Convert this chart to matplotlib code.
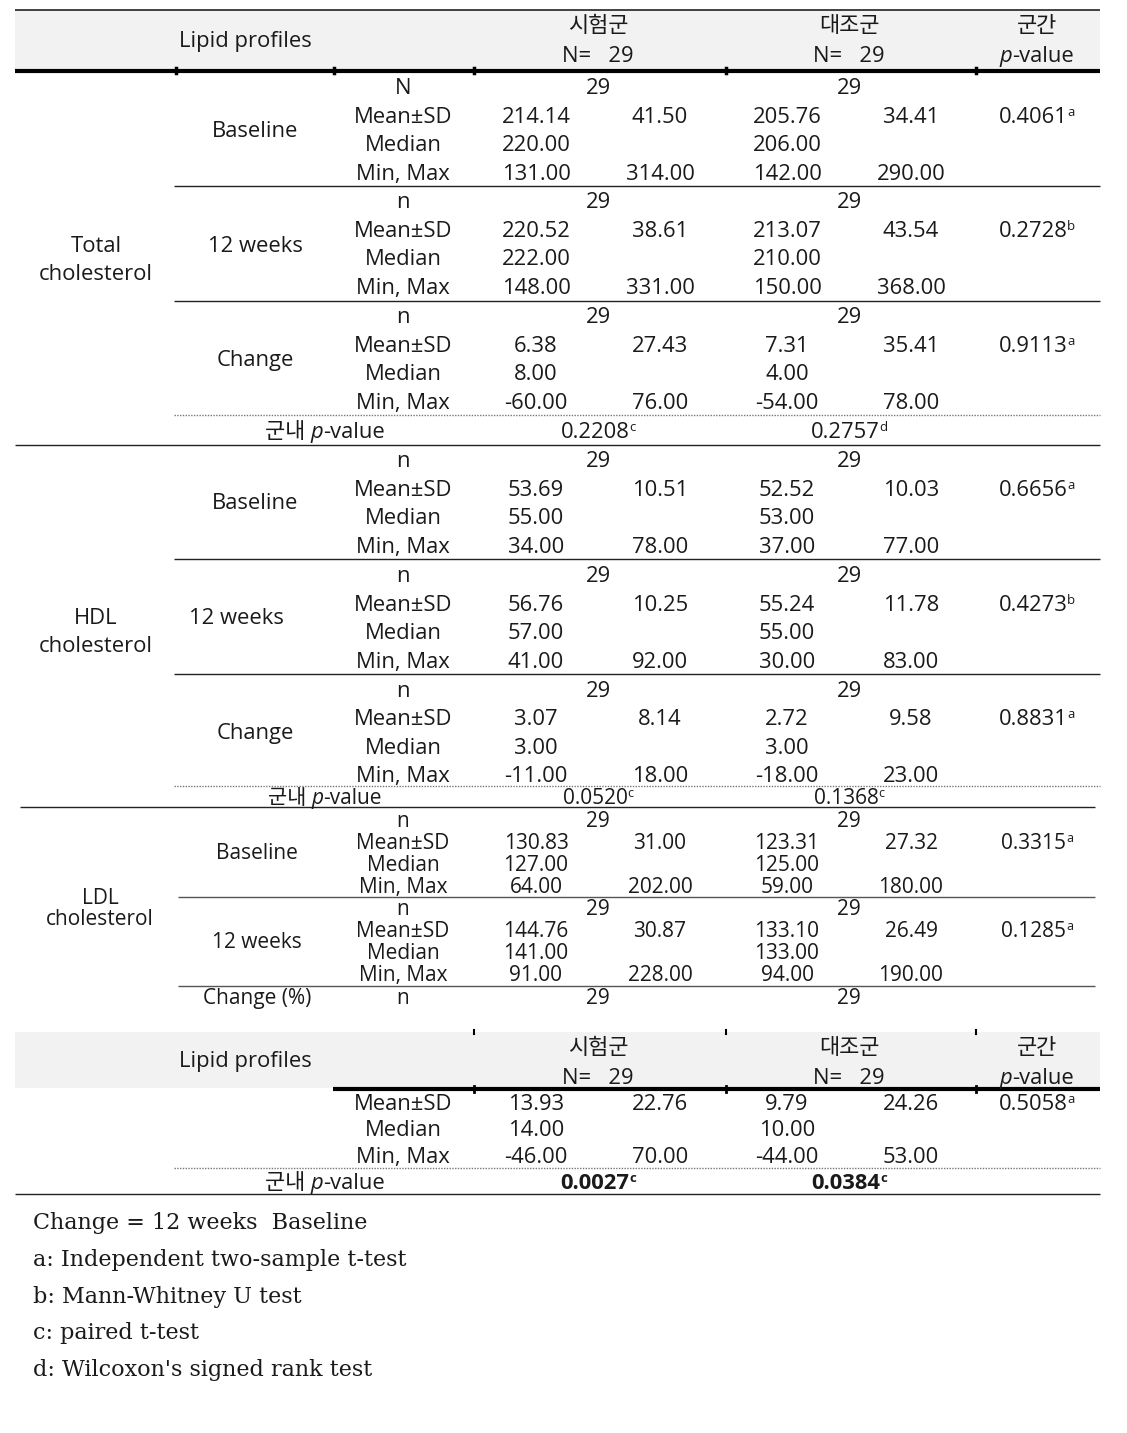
import matplotlib
matplotlib.use('Agg')
import matplotlib.pyplot as plt

plt.rcParams['font.family'] = ['Open Sans', 'Noto Sans CJK KR', 'DejaVu Sans']

W, H = 1127, 1433
FS = 15.8
INK = '#1a1a1a'
DY = 1.5  # small baseline nudge

# ---- data ----
groups = ['시험군', '대조군']
n_each = [29, 29]
stat_labels = ['Mean±SD', 'Median', 'Min, Max']

total_base = [['214.14', '41.50', '205.76', '34.41'], ['220.00', '', '206.00', ''], ['131.00', '314.00', '142.00', '290.00']]
total_12w = [['220.52', '38.61', '213.07', '43.54'], ['222.00', '', '210.00', ''], ['148.00', '331.00', '150.00', '368.00']]
total_chg = [['6.38', '27.43', '7.31', '35.41'], ['8.00', '', '4.00', ''], ['-60.00', '76.00', '-54.00', '78.00']]
total_p = [('0.4061', 'a'), ('0.2728', 'b'), ('0.9113', 'a')]
total_within = [('0.2208', 'c'), ('0.2757', 'd')]

hdl_base = [['53.69', '10.51', '52.52', '10.03'], ['55.00', '', '53.00', ''], ['34.00', '78.00', '37.00', '77.00']]
hdl_12w = [['56.76', '10.25', '55.24', '11.78'], ['57.00', '', '55.00', ''], ['41.00', '92.00', '30.00', '83.00']]
hdl_chg = [['3.07', '8.14', '2.72', '9.58'], ['3.00', '', '3.00', ''], ['-11.00', '18.00', '-18.00', '23.00']]
hdl_p = [('0.6656', 'a'), ('0.4273', 'b'), ('0.8831', 'a')]
hdl_within = [('0.0520', 'c'), ('0.1368', 'c')]

ldl_base = [['130.83', '31.00', '123.31', '27.32'], ['127.00', '', '125.00', ''], ['64.00', '202.00', '59.00', '180.00']]
ldl_12w = [['144.76', '30.87', '133.10', '26.49'], ['141.00', '', '133.00', ''], ['91.00', '228.00', '94.00', '190.00']]
ldl_chg = [['13.93', '22.76', '9.79', '24.26'], ['14.00', '', '10.00', ''], ['-46.00', '70.00', '-44.00', '53.00']]
ldl_p = [('0.3315', 'a'), ('0.1285', 'a'), ('0.5058', 'a')]
ldl_within = [('0.0027', 'c'), ('0.0384', 'c')]

footnotes = ['Change = 12 weeks  Baseline',
             'a: Independent two-sample t-test',
             'b: Mann-Whitney U test',
             'c: paired t-test',
             "d: Wilcoxon's signed rank test"]

# column centres
X_GRP, X_TIME, X_STAT = 96, 255, 403
X_VAL = [536, 660, 787, 911]
X_N = [598, 849]
X_P = 1037

fig = plt.figure(figsize=(W / 100, H / 100), dpi=100)
ax = fig.add_axes([0, 0, 1, 1])
ax.set_xlim(0, W)
ax.set_ylim(H, 0)
ax.axis('off')
rend = fig.canvas.get_renderer()


def put(x, y, s, ha='center', fs=FS, **kw):
    return ax.text(x, y + DY, s, ha=ha, va='center', fontsize=fs, color=INK, **kw)


def seq(x, y, pieces, ha='center'):
    # pieces: (text, fontsize, dy, kwargs) laid left to right
    arts = []
    for s, fs, dy, kw in pieces:
        t = ax.text(0, y + dy + DY, s, ha='left', va='center', fontsize=fs, color=INK, **kw)
        arts.append(t)
    widths = [a.get_window_extent(rend).width for a in arts]
    total = sum(widths)
    cx = x - total / 2 if ha == 'center' else x
    for a, w in zip(arts, widths):
        a.set_x(cx)
        cx += w


def pval(x, y, num, sup, bold=False, fs=FS):
    w = 'bold' if bold else 'normal'
    seq(x, y, [(num, fs, 0, {'fontweight': w}), (sup, fs * 0.6, -5, {'fontweight': w})])


def hline(y, x0, x1, lw=1.0, color='#222222', ls='-'):
    ax.plot([x0, x1], [y, y], color=color, lw=lw, ls=ls, solid_capstyle='butt')


def block(y0, dy, vals, p, first='n', fs=FS):
    put(X_STAT, y0, first, fs=fs)
    for xn, n in zip(X_N, n_each):
        put(xn, y0, str(n), fs=fs)
    for i, row in enumerate(vals):
        y = y0 + dy * (i + 1)
        put(X_STAT, y, stat_labels[i], fs=fs)
        for xv, v in zip(X_VAL, row):
            if v:
                put(xv, y, v, fs=fs)
    pval(X_P, y0 + dy, p[0], p[1], fs=fs)


def within(y, vals, bold=False, fs=FS):
    seq(325, y, [('군내 ', fs, 0, {}), ('p', fs, 0, {'style': 'italic'}), ('-value', fs, 0, {})])
    for xn, (num, sup) in zip(X_N, vals):
        pval(xn, y, num, sup, bold=bold, fs=fs)


def header(y_top, y_bot, line_x0):
    ax.add_patch(plt.Rectangle((15, y_top), 1085, y_bot - y_top, color='#f2f2f2', lw=0, zorder=0))
    put(245, (y_top + y_bot) / 2, 'Lipid profiles')
    for xn, g, n in zip(X_N, groups, n_each):
        put(xn, y_top + 15, g)
        put(xn, y_top + 45, 'N=   %d' % n)
    put(X_P, y_top + 15, '군간')
    seq(X_P, y_top + 45, [('p', FS, 0, {'style': 'italic'}), ('-value', FS, 0, {})])
    hline(y_bot + 1, line_x0, 1100, lw=3, color='black')


# ---- header 1 ----
hline(10, 15, 1100, lw=1.2)
header(10, 70, 15)
for xt in [176, 334, 474, 726, 976]:
    ax.plot([xt, xt], [68, 73], color='black', lw=2.5)

# ---- Total cholesterol ----
put(X_GRP, 245, 'Total')
put(X_GRP, 273, 'cholesterol')
put(X_TIME, 130, 'Baseline')
block(87, 28.7, total_base, total_p[0], first='N')
hline(186, 174, 1100)
put(X_TIME, 245, '12 weeks')
block(201, 28.7, total_12w, total_p[1])
hline(301, 174, 1100)
put(X_TIME, 359, 'Change')
block(316, 28.7, total_chg, total_p[2])
hline(415, 174, 1100, color='#777777', ls=(0, (1, 1)))
within(431, total_within)
hline(445, 15, 1100)

# ---- HDL cholesterol ----
put(X_GRP, 617, 'HDL')
put(X_GRP, 645, 'cholesterol')
put(X_TIME, 502, 'Baseline')
block(460, 28.7, hdl_base, hdl_p[0])
hline(559, 174, 1100)
put(236, 617, '12 weeks')
block(575, 28.7, hdl_12w, hdl_p[1])
hline(674, 174, 1100)
put(X_TIME, 732, 'Change')
block(690, 28.3, hdl_chg, hdl_p[2])
hline(786, 174, 1100, color='#777777', ls=(0, (1, 1)))
within(797, hdl_within, fs=15)
hline(807, 20, 1095)

# ---- LDL cholesterol ----
FL = 15
put(100, 897, 'LDL', fs=FL)
put(100, 918, 'cholesterol', fs=FL)
put(257, 852, 'Baseline', fs=FL)
block(820, 22, ldl_base, ldl_p[0], fs=FL)
hline(897, 178, 1095, color='#555555')
put(257, 941, '12 weeks', fs=FL)
block(908, 22, ldl_12w, ldl_p[1], fs=FL)
hline(986, 178, 1095, color='#555555')
put(257, 997, 'Change (%)', fs=FL)
put(X_STAT, 997, 'n', fs=FL)
for xn, n in zip(X_N, n_each):
    put(xn, 997, str(n), fs=FL)

# ---- header 2 ----
header(1032, 1088, 333)
for xt in [474, 726, 976]:
    ax.plot([xt, xt], [1030, 1034], color='black', lw=1.5)
    ax.plot([xt, xt], [1086, 1092], color='black', lw=2)

for i, row in enumerate(ldl_chg):
    y = 1103 + 26.5 * i
    put(X_STAT, y, stat_labels[i])
    for xv, v in zip(X_VAL, row):
        if v:
            put(xv, y, v)
pval(X_P, 1103, ldl_p[2][0], ldl_p[2][1])
hline(1168, 174, 1100, color='#777777', ls=(0, (1, 1)))
within(1182, ldl_within, bold=True)
hline(1194, 15, 1100)

# ---- footnotes ----
for i, s in enumerate(footnotes):
    ax.text(33, 1223 + 36.8 * i, s, ha='left', va='center', fontsize=16,
            family='DejaVu Serif', color=INK)

fig.savefig('out.png', dpi=100, facecolor='white')
